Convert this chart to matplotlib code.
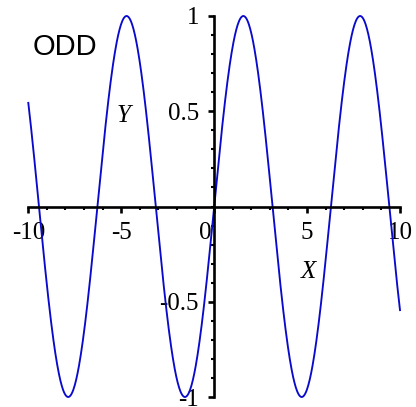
import numpy as np
import matplotlib
matplotlib.use("Agg")
import matplotlib.pyplot as plt
from matplotlib.ticker import FixedLocator, FixedFormatter, MultipleLocator
from matplotlib.transforms import ScaledTranslation

# y = sin(x) on [-10, 10], an odd function
X_MIN, X_MAX = -10, 10
N_SAMPLES = 800
x = np.linspace(X_MIN, X_MAX, N_SAMPLES)
y = np.sin(x)

x_ticks = [-10, -5, 0, 5, 10]
x_labels = ["-10", "-5", "0", "5", "10"]
y_ticks = [-1, -0.5, 0.5, 1]
y_labels = ["-1", "-0.5", "0.5", "1"]
title = "ODD"

W, H = 416, 407
fig = plt.figure(figsize=(W / 100, H / 100), dpi=100)
ax = fig.add_axes([28.3 / W, 10 / H, 371.7 / W, 381 / H])
ax.plot(x, y, color="#0a0acc", lw=1.35, clip_on=False)
ax.set_xlim(X_MIN, X_MAX)
ax.set_ylim(-1, 1)

for side in ("top", "right"):
    ax.spines[side].set_visible(False)
for side in ("left", "bottom"):
    ax.spines[side].set_position(("data", 0))
    ax.spines[side].set_linewidth(1.9)
    ax.spines[side].set_capstyle("projecting")

serif = "Liberation Serif"
ax.xaxis.set_major_locator(FixedLocator(x_ticks))
ax.xaxis.set_major_formatter(FixedFormatter(x_labels))
ax.xaxis.set_minor_locator(MultipleLocator(1))
ax.yaxis.set_major_locator(FixedLocator(y_ticks))
ax.yaxis.set_major_formatter(FixedFormatter(y_labels))
ax.yaxis.set_minor_locator(MultipleLocator(0.1))
ax.tick_params(which="major", direction="out", length=4.5, width=1.9,
               labelsize=18)
ax.tick_params(which="minor", direction="out", length=2, width=1.5)
ax.tick_params(axis="x", which="major", pad=6.5)
ax.tick_params(axis="y", which="major", pad=6.5)
for lab in ax.get_xticklabels() + ax.get_yticklabels():
    lab.set_fontfamily(serif)

# nudge the origin label off the vertical axis
for lab in ax.get_xticklabels():
    if lab.get_text() == "0":
        lab.set_transform(lab.get_transform()
                          + ScaledTranslation(-9 / 100, 0, fig.dpi_scale_trans))

fig.text(33 / W, 1 - 55 / H, title, family="Liberation Sans", fontsize=21,
         va="baseline", ha="left")
fig.text(117 / W, 1 - 122 / H, "Y", family=serif, style="italic",
         fontsize=18, va="baseline", ha="left")
fig.text(301 / W, 1 - 278 / H, "X", family=serif, style="italic",
         fontsize=18, va="baseline", ha="left")

fig.savefig("out.png", dpi=100, facecolor="white")
